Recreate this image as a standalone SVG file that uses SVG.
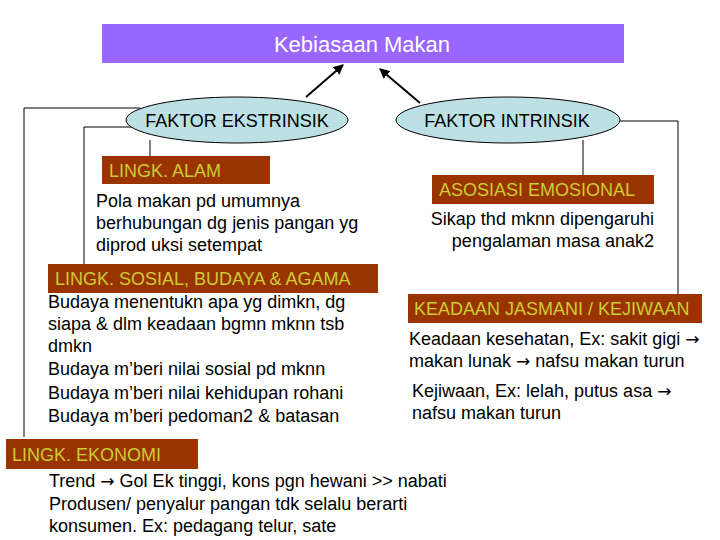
<svg xmlns="http://www.w3.org/2000/svg" width="720" height="540" viewBox="0 0 720 540">
<defs>
<marker id="ah" viewBox="0 0 10 10" refX="9" refY="5" markerWidth="5" markerHeight="5" orient="auto" markerUnits="strokeWidth">
<path d="M0,0 L10,5 L0,10 z" fill="#000"/>
</marker>
<style>
text{font-family:"Liberation Sans",Arial,sans-serif;}
.body{font-size:18px;fill:#000;}
.lbl{font-size:18px;fill:#CCCC33;}
.box{fill:#993300;}
.ell{fill:#BCE0E4;stroke:#000;stroke-width:1;}
.con{fill:none;stroke:#000;stroke-width:1;}
.arr{stroke:#000;stroke-width:2;marker-end:url(#ah);}
.sym{font-family:"DejaVu Sans",sans-serif;font-size:17px;}
</style>
</defs>
<rect width="720" height="540" fill="#fff"/>
<g id="connectors">
<polyline class="con" points="140,108 24,108 24,437"/>
<polyline class="con" points="140,127 84,127 84,264"/>
<line class="con" x1="150" y1="140" x2="150" y2="156"/>
<polyline class="con" points="610,121 678,121 678,294"/>
<line class="con" x1="583" y1="140" x2="583" y2="175"/>
<line class="arr" x1="306" y1="97" x2="343" y2="65"/>
<line class="arr" x1="420" y1="103" x2="380" y2="69"/>
</g>
<g id="title">
<rect x="102" y="24" width="522" height="39" fill="#9966FF"/>
<text x="362" y="52" font-size="22" fill="#fff" text-anchor="middle">Kebiasaan Makan</text>
</g>
<g id="ekstrinsik">
<ellipse class="ell" cx="237" cy="120" rx="111" ry="23"/>
<text x="237" y="127" font-size="18" text-anchor="middle">FAKTOR EKSTRINSIK</text>
</g>
<g id="intrinsik">
<ellipse class="ell" cx="508" cy="120" rx="112" ry="23"/>
<text x="507" y="127" font-size="18" text-anchor="middle">FAKTOR INTRINSIK</text>
</g>
<g id="alam">
<rect class="box" x="102" y="156" width="168" height="28"/>
<text class="lbl" x="109" y="177">LINGK. ALAM</text>
<text class="body" x="96" y="207">Pola makan pd umumnya</text>
<text class="body" x="96" y="229">berhubungan dg jenis pangan yg</text>
<text class="body" x="96" y="251">diprod uksi setempat</text>
</g>
<g id="sosial">
<rect class="box" x="48" y="264" width="330" height="29"/>
<text class="lbl" x="55" y="285">LINGK. SOSIAL, BUDAYA &amp; AGAMA</text>
<text class="body" x="48" y="308">Budaya menentukn apa yg dimkn, dg</text>
<text class="body" x="48" y="330">siapa &amp; dlm keadaan bgmn mknn tsb</text>
<text class="body" x="48" y="352">dmkn</text>
<text class="body" x="48" y="375">Budaya m’beri nilai sosial pd mknn</text>
<text class="body" x="48" y="399">Budaya m’beri nilai kehidupan rohani</text>
<text class="body" x="48" y="422">Budaya m’beri pedoman2 &amp; batasan</text>
</g>
<g id="ekonomi">
<rect class="box" x="6" y="439" width="192" height="30"/>
<text class="lbl" x="12" y="461">LINGK. EKONOMI</text>
<text class="body" x="49" y="487">Trend <tspan class="sym">→</tspan> Gol Ek tinggi, kons pgn hewani &gt;&gt; nabati</text>
<text class="body" x="49" y="510">Produsen/ penyalur pangan tdk selalu berarti</text>
<text class="body" x="49" y="532">konsumen. Ex: pedagang telur, sate</text>
</g>
<g id="emosional">
<rect class="box" x="432" y="175" width="222" height="29"/>
<text class="lbl" x="439" y="196">ASOSIASI EMOSIONAL</text>
<text class="body" x="654" y="225" text-anchor="end">Sikap thd mknn dipengaruhi</text>
<text class="body" x="654" y="247" text-anchor="end">pengalaman masa anak2</text>
</g>
<g id="jasmani">
<rect class="box" x="408" y="294" width="294" height="29"/>
<text class="lbl" x="414" y="315">KEADAAN JASMANI / KEJIWAAN</text>
<text class="body" x="409" y="345">Keadaan kesehatan, Ex: sakit gigi <tspan class="sym">→</tspan></text>
<text class="body" x="409" y="367">makan lunak <tspan class="sym">→</tspan> nafsu makan turun</text>
<text class="body" x="412" y="397">Kejiwaan, Ex: lelah, putus asa <tspan class="sym">→</tspan></text>
<text class="body" x="412" y="419">nafsu makan turun</text>
</g>
</svg>
